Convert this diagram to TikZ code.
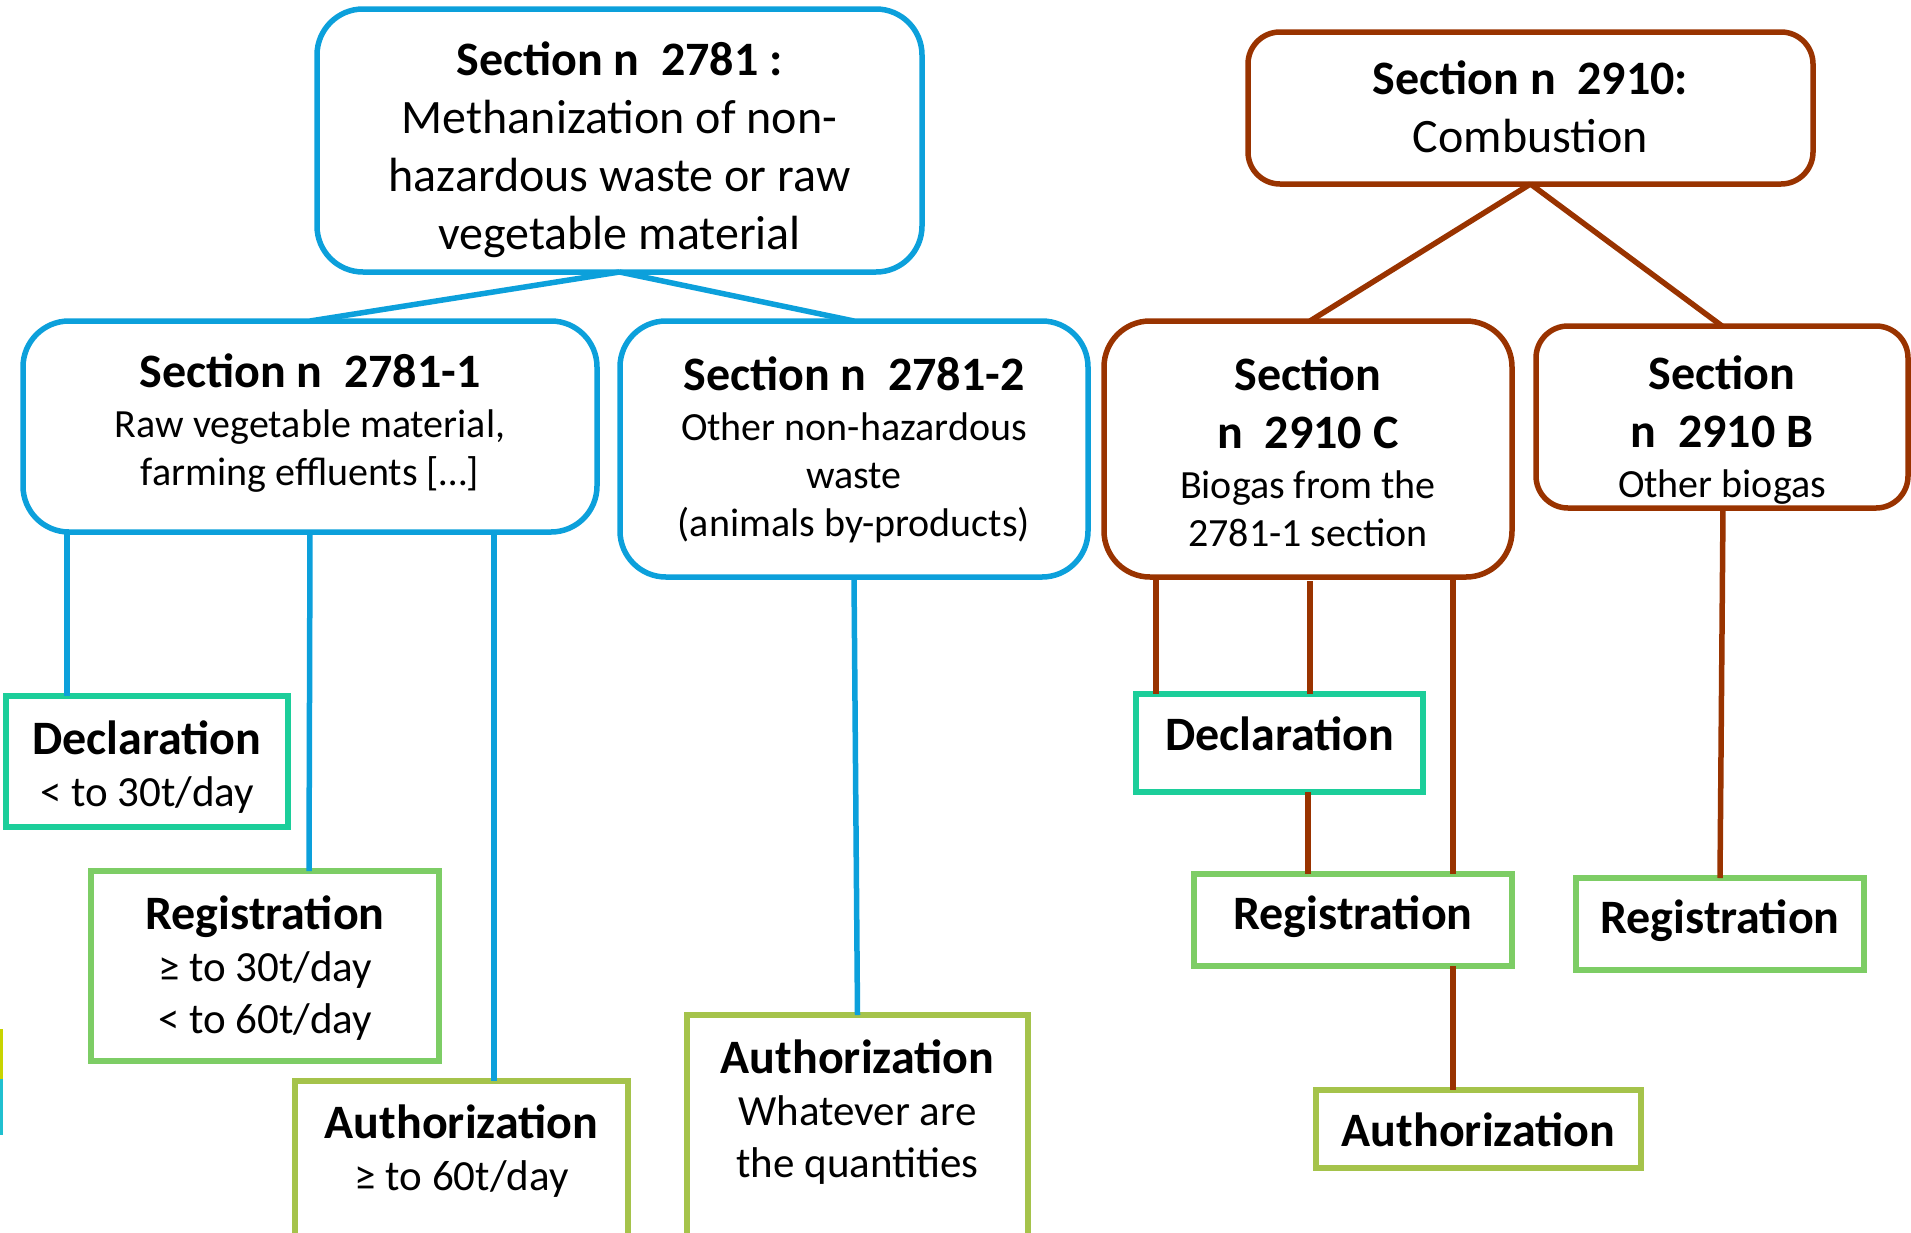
\documentclass[tikz,border=0pt]{standalone}
\usepackage{fontspec}
\setmainfont{Carlito}
\definecolor{cblue}{RGB}{12,160,219}
\definecolor{cbrown}{RGB}{153,51,0}
\definecolor{cteal}{RGB}{28,206,154}
\definecolor{cgreen}{RGB}{125,205,101}
\definecolor{colive}{RGB}{165,195,75}
\definecolor{cyel}{RGB}{200,212,0}
\definecolor{ccyan}{RGB}{32,192,208}
\newcommand\gapn{\hspace{0.45em}}
\newcommand\ttlf{\fontsize{24}{29}\selectfont\bfseries}
\tikzset{
  box/.style={draw, line width=2.75pt, inner sep=0pt, outer sep=0pt, fill=white},
  bsec/.style={box, draw=cblue, rounded corners=23pt},
  rsec/.style={box, draw=cbrown, rounded corners=23pt},
  rsecs/.style={box, draw=cbrown, rounded corners=16pt},
  decbox/.style={box, draw=cteal},
  regbox/.style={box, draw=cgreen},
  autbox/.style={box, draw=colive},
  txt/.style={align=center, inner sep=0pt, text=black},
  toptxt/.style={txt, font=\fontsize{24}{29}\selectfont},
  midtxt/.style={txt, font=\fontsize{20}{24}\selectfont},
  lowtxt/.style={txt, font=\fontsize{21.5}{26}\selectfont},
  cb/.style={draw=cblue, line width=2.75pt},
  cr/.style={draw=cbrown, line width=2.75pt},
}
\begin{document}
\begin{tikzpicture}[x=0.5pt,y=-0.5pt]
\useasboundingbox (0,0) rectangle (1911,1232);
\clip (0,0) rectangle (1911,1232);
\fill[cyel] (0,1029) rectangle (3,1079);
\fill[ccyan] (0,1079) rectangle (3,1135);

% boxes
\node[bsec, minimum width=302.5pt, minimum height=131.5pt] (t0) at (619.5,140.5) {};
\node[bsec, minimum width=287pt, minimum height=105.5pt] (s1) at (310,426.5) {};
\node[bsec, minimum width=234pt, minimum height=128pt] (s2) at (854,449) {};
\node[rsecs, minimum width=282.5pt, minimum height=76pt] (c0) at (1530.5,108) {};
\node[rsec, minimum width=204pt, minimum height=128pt] (cC) at (1308,449) {};
\node[rsecs, minimum width=186pt, minimum height=91pt] (cB) at (1722,417) {};
\node[decbox, minimum width=141pt, minimum height=65.5pt] (d1) at (147,761.5) {};
\node[regbox, minimum width=174pt, minimum height=95pt] (r1) at (265,966) {};
\node[autbox, minimum width=166.5pt, minimum height=109.5pt] (a1) at (461.5,1190.5) {};
\node[autbox, minimum width=170.5pt, minimum height=142.5pt] (a2) at (857.5,1157.5) {};
\node[decbox, minimum width=143.5pt, minimum height=49pt] (d2) at (1279.5,743) {};
\node[regbox, minimum width=159pt, minimum height=46pt] (r2) at (1353,920) {};
\node[regbox, minimum width=144pt, minimum height=46pt] (r3) at (1720,924) {};
\node[autbox, minimum width=162.5pt, minimum height=39pt] (a3) at (1478.5,1129) {};

% texts
\node[toptxt] (t0x) at (619.5,150) {\textbf{Section n\gapn 2781 :}\\Methanization of non-\\hazardous waste or raw\\vegetable material};
\node[midtxt] (s1x) at (310,423) {{\ttlf Section n\gapn 2781-1}\\[1pt]Raw vegetable material,\\farming effluents [\dots]};
\node[midtxt] (s2x) at (854,450) {{\ttlf Section n\gapn 2781-2}\\[1pt]Other non-hazardous\\waste\\(animals by-products)};
\node[toptxt] (c0x) at (1530.5,107) {\textbf{Section n\gapn 2910:}\\Combustion};
\node[midtxt] (cCx) at (1308,452) {{\ttlf Section}\\[5pt]{\ttlf n\gapn 2910 C}\\[1pt]Biogas from the\\2781-1 section};
\node[midtxt] (cBx) at (1722,430) {{\ttlf Section}\\[5pt]{\ttlf n\gapn 2910 B}\\[1pt]Other biogas};
\node[lowtxt] (d1x) at (147,767) {{\ttlf Declaration}\\< to 30t/day};
\node[lowtxt] (r1x) at (265,968) {{\ttlf Registration}\\≥ to 30t/day\\< to 60t/day};
\node[lowtxt] (a1x) at (461.5,1151) {{\ttlf Authorization}\\≥ to 60t/day};
\node[lowtxt] (a2x) at (857.5,1112) {{\ttlf Authorization}\\Whatever are\\the quantities};
\node[lowtxt] (d2x) at (1279.5,734) {{\ttlf Declaration}};
\node[lowtxt] (r2x) at (1353,917) {{\ttlf Registration}};
\node[lowtxt] (r3x) at (1720,921) {{\ttlf Registration}};
\node[lowtxt] (a3x) at (1478.5,1130) {{\ttlf Authorization}};

% blue connectors
\draw[cb] (t0.south) -- (s1.north);
\draw[cb] (t0.south) -- (s2.north);
\draw[cb] ([xshift=-121.5pt]s1.south) -- ([xshift=-40pt]d1.north);
\draw[cb] (s1.south) -- ([xshift=22pt]r1.north);
\draw[cb] ([xshift=92pt]s1.south) -- ([xshift=16.25pt]a1.north);
\draw[cb] (s2.south) -- (a2.north);
% brown connectors
\draw[cr] (c0.south) -- ([xshift=1pt]cC.north);
\draw[cr] (c0.south) -- (cB.north);
\draw[cr] ([xshift=-76pt]cC.south) -- ([xshift=-61.75pt]d2.north);
\draw[cr, shorten <=2pt] ([xshift=1pt]cC.south) -- ([xshift=15.25pt]d2.north);
\draw[cr] ([xshift=14.25pt]d2.south) -- ([xshift=-22.5pt]r2.north);
\draw[cr] ([xshift=72.5pt]cC.south) -- ([xshift=50pt]r2.north);
\draw[cr] ([xshift=50pt]r2.south) -- ([xshift=-12.75pt]a3.north);
\draw[cr] ([xshift=0.5pt]cB.south) -- (r3.north);
\end{tikzpicture}
\end{document}
